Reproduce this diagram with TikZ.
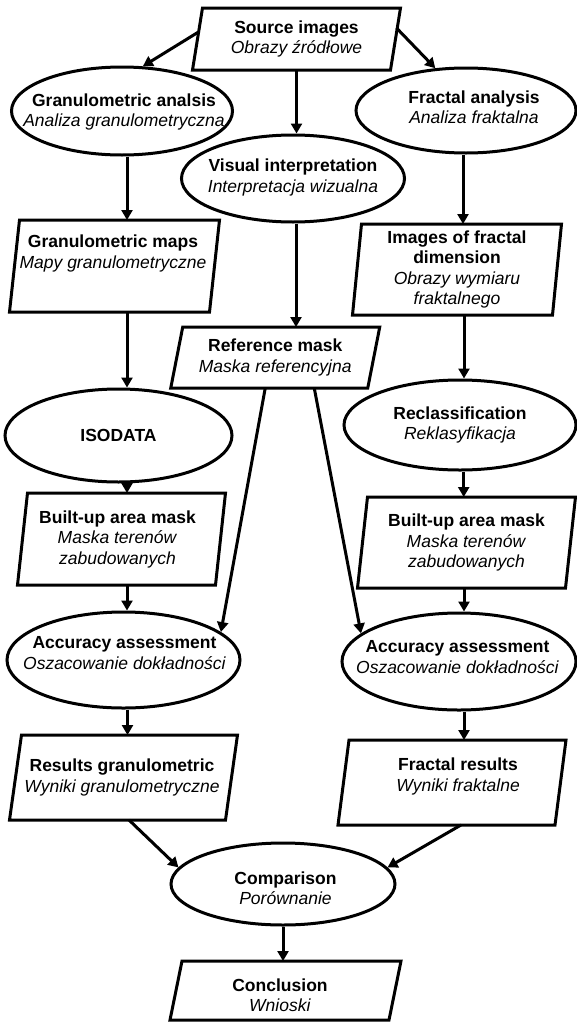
\documentclass[tikz,border=0pt]{standalone}
\usepackage{fontspec}
\setmainfont{Liberation Sans}
\usetikzlibrary{shapes.geometric,arrows.meta}
\newcommand\paraoutline[2]{\draw[outline] ([xshift=#2pt]#1.north west) -- ([xshift=#2pt]#1.north east) -- ([xshift=-#2pt]#1.south east) -- ([xshift=-#2pt]#1.south west) -- cycle;}
\begin{document}
\begin{tikzpicture}[x=1pt,y=-1pt,
 lbl/.style={font=\fontsize{17.5}{20.5}\selectfont, align=center, inner sep=0pt},
 oval/.style={ellipse, draw, line width=3pt, inner sep=0pt},
 pbox/.style={rectangle, draw=none, inner sep=0pt, outer sep=0pt},
 outline/.style={line width=3pt, line join=miter},
 arr/.style={line width=3pt, -{Triangle[length=10pt,width=11pt]}}]
\useasboundingbox (0,0) rectangle (577,1023);

\node[pbox, minimum width=198pt, minimum height=62pt, label={[lbl]center:{\textbf{Source images}\\\textit{Obrazy źródłowe}}}] (src) at (296.5,39) {};
\node[oval, minimum width=221pt, minimum height=88pt, label={[lbl,xshift=2pt,yshift=-1pt]center:{\textbf{Granulometric analsis}\\\textit{Analiza granulometryczna}}}] (ga) at (122,111) {};
\node[oval, minimum width=220pt, minimum height=85pt, label={[lbl,xshift=8pt,yshift=3.5pt]center:{\textbf{Fractal analysis}\\\textit{Analiza fraktalna}}}] (fa) at (466,110.5) {};
\node[oval, minimum width=223pt, minimum height=87pt, label={[lbl,yshift=1pt]center:{\textbf{Visual interpretation}\\\textit{Interpretacja wizualna}}}] (vi) at (293,178.5) {};
\node[pbox, minimum width=200pt, minimum height=92pt, label={[lbl,xshift=-1.5pt,yshift=12.5pt]center:{\textbf{Granulometric maps}\\\textit{Mapy granulometryczne}}}] (gmap) at (114.5,266) {};
\node[pbox, minimum width=200pt, minimum height=91pt, label={[lbl]center:{\textbf{Images of fractal}\\\textbf{dimension}\\\textit{Obrazy wymiaru}\\\textit{fraktalnego}}}] (ifd) at (457,269.5) {};
\node[pbox, minimum width=197pt, minimum height=61pt, label={[lbl]center:{\textbf{Reference mask}\\\textit{Maska referencyjna}}}] (ref) at (275.25,357.5) {};
\node[oval, minimum width=227pt, minimum height=93pt, label={[lbl]center:{\textbf{ISODATA}}}] (iso) at (118.5,435.5) {};
\node[oval, minimum width=232pt, minimum height=90pt, label={[lbl]center:{\textbf{Reclassification}\\\textit{Reklasyfikacja}}}] (rc) at (460,425) {};
\node[pbox, minimum width=198pt, minimum height=92pt, label={[lbl,xshift=-4pt]center:{\textbf{Built-up area mask}\\\textit{Maska terenów}\\\textit{zabudowanych}}}] (bul) at (121.5,539) {};
\node[pbox, minimum width=208pt, minimum height=91pt, label={[lbl]center:{\textbf{Built-up area mask}\\\textit{Maska terenów}\\\textit{zabudowanych}}}] (bur) at (466.5,542.5) {};
\node[oval, minimum width=233pt, minimum height=96pt, label={[lbl,xshift=1pt,yshift=7pt]center:{\textbf{Accuracy assessment}\\\textit{Oszacowanie dokładności}}}] (acl) at (123.5,660) {};
\node[oval, minimum width=234pt, minimum height=97pt, label={[lbl,xshift=-1.5pt,yshift=4.5pt]center:{\textbf{Accuracy assessment}\\\textit{Oszacowanie dokładności}}}] (acr) at (459,661.5) {};
\node[pbox, minimum width=216pt, minimum height=85pt, label={[lbl,xshift=-1.5pt]center:{\textbf{Results granulometric}\\\textit{Wyniki granulometryczne}}}] (rg) at (123.5,777.5) {};
\node[pbox, minimum width=217pt, minimum height=85pt, label={[lbl,xshift=6pt,yshift=6pt]center:{\textbf{Fractal results}\\\textit{Wyniki fraktalne}}}] (fr) at (452,782.5) {};
\node[oval, minimum width=224pt, minimum height=82pt, label={[lbl,xshift=2.5pt,yshift=-4pt]center:{\textbf{Comparison}\\\textit{Porównanie}}}] (cmp) at (283,884) {};
\node[pbox, minimum width=219pt, minimum height=59pt, label={[lbl,xshift=-5.5pt,yshift=-4.5pt]center:{\textbf{Conclusion}\\\textit{Wnioski}}}] (concl) at (285.5,990.5) {};

\paraoutline{src}{5}
\paraoutline{gmap}{5}
\paraoutline{ref}{6}
\paraoutline{ifd}{4.5}
\paraoutline{bul}{5}
\paraoutline{bur}{5}
\paraoutline{rg}{6}
\paraoutline{fr}{5.5}
\paraoutline{concl}{6}

\draw[arr] ([xshift=1pt,yshift=7pt]src.west) -- (ga.65);
\draw[arr] ([xshift=1pt,yshift=11pt]src.east) -- (fa.126);
\draw[arr] (src.south) -- (src.south |- vi.north);
\draw[arr] ([xshift=3pt]vi.south) -- ([xshift=3pt]vi.south |- ref.north);
\draw[arr] ([xshift=5pt]ga.south) -- ([xshift=5pt]ga.south |- gmap.north);
\draw[arr] ([xshift=12.5pt]gmap.south) -- ([xshift=12.5pt]gmap.south |- iso.north);
\draw[arr] ([xshift=8.5pt]iso.south) -- ([xshift=8.5pt]iso.south |- bul.north);
\draw[arr] ([xshift=5.5pt]bul.south) -- ([xshift=5.5pt]bul.south |- acl.north);
\draw[arr] ([xshift=4pt]acl.south) -- ([xshift=4pt]acl.south |- rg.north);
\draw[arr] ([xshift=-3pt]fa.south) -- ([xshift=-3pt]fa.south |- ifd.north);
\draw[arr] ([xshift=7pt]ifd.south) -- ([xshift=7pt]ifd.south |- rc.north);
\draw[arr] ([xshift=3.7pt]rc.south) -- ([xshift=3.7pt]rc.south |- bur.north);
\draw[arr] ([xshift=-2.5pt]bur.south) -- ([xshift=-2.5pt]bur.south |- acr.north);
\draw[arr] ([xshift=5pt]acr.south) -- ([xshift=5pt]acr.south |- fr.north);
\draw[arr] ([xshift=-10pt]ref.south) -- (acl.16);
\draw[arr] ([xshift=39pt]ref.south) -- (acr.164);
\draw[arr] ([xshift=5.5pt]rg.south) -- (cmp.171);
\draw[arr] ([xshift=9pt]fr.south) -- (cmp.9);
\draw[arr] (cmp.south) -- (cmp.south |- concl.north);
\end{tikzpicture}
\end{document}
